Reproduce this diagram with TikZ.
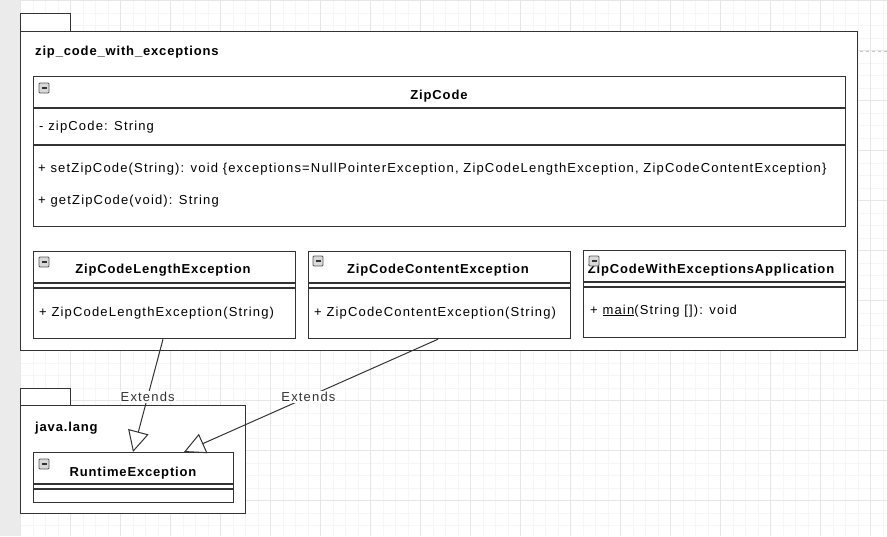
\documentclass[tikz,border=0pt]{standalone}
\usepackage{fontspec}
\setmainfont{Liberation Sans}[LetterSpace=9, BoldFeatures={LetterSpace=6.5}]
\usetikzlibrary{arrows.meta,positioning}

\definecolor{gridmin}{HTML}{F6F6F6}
\definecolor{gridmaj}{HTML}{E6E6E6}
\definecolor{umlline}{HTML}{333333}
\definecolor{stripgray}{HTML}{EBEBEB}

\newcommand{\umlfont}{\fontsize{13}{15}\selectfont}

\tikzset{
  umlbox/.style={draw=umlline, line width=1.2pt, fill=white, inner sep=0pt, anchor=north west},
  sepline/.style={draw=umlline, line width=1.2pt},
  classname/.style={font=\umlfont\bfseries, inner sep=0pt, anchor=base},
  pkgname/.style={font=\umlfont\bfseries, inner sep=0pt, anchor=base west},
  member/.style={font=\umlfont, inner sep=0pt, anchor=base west},
  extends/.style={-{Triangle[open,length=21pt,width=21pt]}, line width=1pt, umlline},
  extlabel/.style={font=\umlfont, fill=white, inner sep=1pt},
  collapse/.pic={
    \draw[gray!70!black, fill=gray!30, line width=0.8pt, rounded corners=1pt] (0,0) rectangle (10,10);
    \draw[gray!40!black, line width=1.6pt] (2.5,5) -- (7.5,5);
  }
}

\begin{document}
\begin{tikzpicture}[x=1pt, y=-1pt, font=\umlfont]
  \useasboundingbox (0,0) rectangle (887,536);

  % grid
  \fill[white] (0,0) rectangle (887,536);
  \foreach \gx in {20.5,33,...,887} \draw[gridmin, line width=0.8pt] (\gx,0) -- (\gx,536);
  \foreach \gy in {0.5,13,...,536} \draw[gridmin, line width=0.8pt] (20,\gy) -- (887,\gy);
  \foreach \gx in {20.5,70.5,...,887} \draw[gridmaj, line width=0.8pt] (\gx,0) -- (\gx,536);
  \foreach \gy in {0.5,50.5,...,536} \draw[gridmaj, line width=0.8pt] (20,\gy) -- (887,\gy);
  \fill[stripgray] (0,0) rectangle (20,536);
  \draw[gray!45, dash pattern=on 3pt off 3pt] (20,51) -- (887,51);

  % package zip_code_with_exceptions
  \node[umlbox, minimum width=50pt, minimum height=18pt] (mainTab) at (20,13) {};
  \node[umlbox, minimum width=837pt, minimum height=319pt] (mainPkg) at (20,31) {};
  \node[pkgname] (mainName) at (35,55.5) {zip\_code\_with\_exceptions};

  % ZipCode
  \node[umlbox, minimum width=812pt, minimum height=150pt] (zipCode) at (33,76) {};
  \draw[sepline] ([yshift=-32pt]zipCode.north west) -- ([yshift=-32pt]zipCode.north east);
  \draw[sepline] ([yshift=-69pt]zipCode.north west) -- ([yshift=-69pt]zipCode.north east);
  \node[classname] (zipCodeName) at (439,99) {ZipCode};
  \node[member] (zipCodeAttr) at (39,130.5) {- zipCode: String};
  \node[member] (zipCodeSet) at (38,172.5) {+ setZipCode(String): void \{exceptions=NullPointerException, ZipCodeLengthException, ZipCodeContentException\}};
  \node[member] (zipCodeGet) at (38,204.5) {+ getZipCode(void): String};
  \pic at (39,83) {collapse};

  % ZipCodeLengthException
  \node[umlbox, minimum width=262pt, minimum height=87pt] (lenExc) at (33,251) {};
  \draw[sepline] ([yshift=-32pt]lenExc.north west) -- ([yshift=-32pt]lenExc.north east);
  \draw[sepline] ([yshift=-37pt]lenExc.north west) -- ([yshift=-37pt]lenExc.north east);
  \node[classname] (lenExcName) at (163,273.5) {ZipCodeLengthException};
  \node[member] (lenExcCtor) at (39,316) {+ ZipCodeLengthException(String)};
  \pic at (39,257) {collapse};

  % ZipCodeContentException
  \node[umlbox, minimum width=262pt, minimum height=87pt] (conExc) at (308,251) {};
  \draw[sepline] ([yshift=-32pt]conExc.north west) -- ([yshift=-32pt]conExc.north east);
  \draw[sepline] ([yshift=-37pt]conExc.north west) -- ([yshift=-37pt]conExc.north east);
  \node[classname] (conExcName) at (438,273.5) {ZipCodeContentException};
  \node[member] (conExcCtor) at (314,316) {+ ZipCodeContentException(String)};
  \pic at (313,256) {collapse};

  % ZipCodeWithExceptionsApplication
  \node[umlbox, minimum width=262pt, minimum height=87pt] (appCls) at (583,250) {};
  \draw[sepline] ([yshift=-32pt]appCls.north west) -- ([yshift=-32pt]appCls.north east);
  \draw[sepline] ([yshift=-37pt]appCls.north west) -- ([yshift=-37pt]appCls.north east);
  \node[classname] (appClsName) at (711,273) {ZipCodeWithExceptionsApplication};
  \node[member] (appClsMain) at (590,314) {+ \underline{main}(String []): void};
  \pic at (589,256) {collapse};

  % package java.lang
  \node[umlbox, minimum width=50pt, minimum height=17pt] (langTab) at (20,388) {};
  \node[umlbox, minimum width=225pt, minimum height=108pt] (langPkg) at (20,405) {};
  \node[pkgname] (langName) at (35,431.5) {java.lang};

  % RuntimeException
  \node[umlbox, minimum width=200pt, minimum height=50pt] (rtExc) at (33,452) {};
  \draw[sepline] ([yshift=-32pt]rtExc.north west) -- ([yshift=-32pt]rtExc.north east);
  \draw[sepline] ([yshift=-37pt]rtExc.north west) -- ([yshift=-37pt]rtExc.north east);
  \node[classname] (rtExcName) at (133,476) {RuntimeException};
  \pic at (39,459) {collapse};

  % generalisations
  \coordinate (lenFoot) at ([xshift=130pt]lenExc.south west);
  \coordinate (conFoot) at ([xshift=130pt]conExc.south west);
  \coordinate (rtHeadA) at ([xshift=100pt]rtExc.north west);
  \coordinate (rtHeadB) at ([xshift=151pt]rtExc.north west);
  \draw[extends] (lenFoot) -- node[extlabel, pos=0.51] (extA) {Extends} (rtHeadA);
  \draw[extends] (conFoot) -- node[extlabel, pos=0.51] (extB) {Extends} (rtHeadB);
\end{tikzpicture}
\end{document}
